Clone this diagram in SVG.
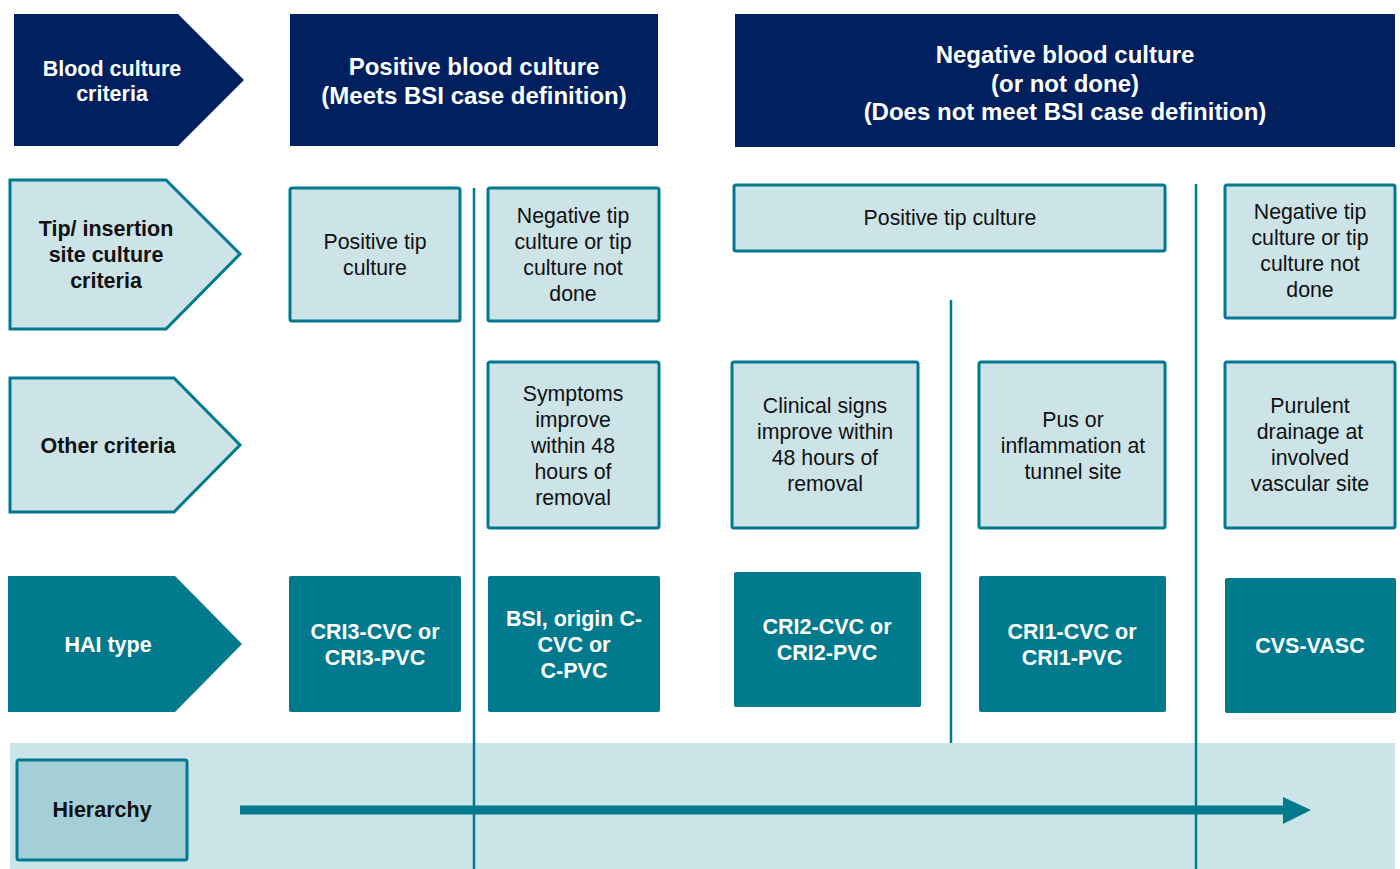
<svg xmlns="http://www.w3.org/2000/svg" width="1400" height="869" viewBox="0 0 1400 869">
<style>
text{font-family:"Liberation Sans",Arial,sans-serif;text-anchor:middle;dominant-baseline:central}
.hd{fill:#002060}
.lt{fill:#cce4e8;stroke:#007a8c;stroke-width:3}
.dk{fill:#007a8c}
.wb{fill:#fff;font-weight:bold;font-size:21.5px}
.wh{fill:#fff;font-weight:bold;font-size:24px}
.bb{fill:#111;font-weight:bold;font-size:21.5px}
.tx{fill:#111;font-size:21.3px}
.vl{stroke:#007a8c;stroke-width:2.5;fill:none}
</style>
<rect x="10" y="743" width="1385" height="126" fill="#cce4e8"/>
<g id="blood-criteria"><polygon class="hd" points="14,14 178,14 244,80 178,146 14,146"/><text class="wb" x="112" y="69">Blood culture</text><text class="wb" x="112" y="94">criteria</text></g>
<g id="pos-blood"><rect class="hd" x="290" y="14" width="368" height="132"/><text class="wh" x="474" y="66">Positive blood culture</text><text class="wh" x="474" y="95">(Meets BSI case definition)</text></g>
<g id="neg-blood"><rect class="hd" x="735" y="14" width="660" height="133"/><text class="wh" x="1065" y="54">Negative blood culture</text><text class="wh" x="1065" y="83">(or not done)</text><text class="wh" x="1065" y="111">(Does not meet BSI case definition)</text></g>
<g id="tip-criteria"><polygon class="lt" points="10,180 166,180 240,254 166,329 10,329"/><text class="bb" x="106" y="229">Tip/ insertion</text><text class="bb" x="106" y="255">site culture</text><text class="bb" x="106" y="281">criteria</text></g>
<g id="other-criteria"><polygon class="lt" points="10,378 174,378 240,445 174,512 10,512"/><text class="bb" x="108" y="446">Other criteria</text></g>
<g id="hai-type"><polygon class="dk" points="8,576 175,576 242,644 175,712 8,712"/><text class="wb" x="108" y="645">HAI type</text></g>
<g id="connectors">
<line class="vl" x1="474" y1="188" x2="474" y2="869"/>
<line class="vl" x1="951" y1="300" x2="951" y2="743"/>
<line class="vl" x1="1196" y1="184" x2="1196" y2="869"/>
<line x1="240" y1="810" x2="1288" y2="810" stroke="#007a8c" stroke-width="9"/>
<polygon points="1283,797 1311,810 1283,824" fill="#007a8c"/>
</g>
<g id="pos-tip-1"><rect class="lt" x="290" y="188" width="170" height="133" rx="2"/><text class="tx" x="375" y="242">Positive tip</text><text class="tx" x="375" y="268">culture</text></g>
<g id="neg-tip-1"><rect class="lt" x="488" y="188" width="171" height="133" rx="2"/><text class="tx" x="573" y="216">Negative tip</text><text class="tx" x="573" y="242">culture or tip</text><text class="tx" x="573" y="268">culture not</text><text class="tx" x="573" y="294">done</text></g>
<g id="pos-tip-2"><rect class="lt" x="734" y="185" width="431" height="66" rx="2"/><text class="tx" x="950" y="218">Positive tip culture</text></g>
<g id="neg-tip-2"><rect class="lt" x="1225" y="185" width="170" height="133" rx="2"/><text class="tx" x="1310" y="212">Negative tip</text><text class="tx" x="1310" y="238">culture or tip</text><text class="tx" x="1310" y="264">culture not</text><text class="tx" x="1310" y="290">done</text></g>
<g id="symptoms"><rect class="lt" x="488" y="362" width="171" height="166" rx="2"/><text class="tx" x="573" y="394">Symptoms</text><text class="tx" x="573" y="420">improve</text><text class="tx" x="573" y="446">within 48</text><text class="tx" x="573" y="472">hours of</text><text class="tx" x="573" y="498">removal</text></g>
<g id="clinical"><rect class="lt" x="732" y="362" width="186" height="166" rx="2"/><text class="tx" x="825" y="406">Clinical signs</text><text class="tx" x="825" y="432">improve within</text><text class="tx" x="825" y="458">48 hours of</text><text class="tx" x="825" y="484">removal</text></g>
<g id="pus"><rect class="lt" x="979" y="362" width="186" height="166" rx="2"/><text class="tx" x="1073" y="420">Pus or</text><text class="tx" x="1073" y="446">inflammation at</text><text class="tx" x="1073" y="472">tunnel site</text></g>
<g id="purulent"><rect class="lt" x="1225" y="362" width="170" height="166" rx="2"/><text class="tx" x="1310" y="406">Purulent</text><text class="tx" x="1310" y="432">drainage at</text><text class="tx" x="1310" y="458">involved</text><text class="tx" x="1310" y="484">vascular site</text></g>
<g id="cri3"><rect class="dk" x="289" y="576" width="172" height="136" rx="2"/><text class="wb" x="375" y="632">CRI3-CVC or</text><text class="wb" x="375" y="658">CRI3-PVC</text></g>
<g id="bsi"><rect class="dk" x="488" y="576" width="172" height="136" rx="2"/><text class="wb" x="574" y="619">BSI, origin C-</text><text class="wb" x="574" y="645">CVC or</text><text class="wb" x="574" y="671">C-PVC</text></g>
<g id="cri2"><rect class="dk" x="734" y="572" width="187" height="135" rx="2"/><text class="wb" x="827" y="627">CRI2-CVC or</text><text class="wb" x="827" y="653">CRI2-PVC</text></g>
<g id="cri1"><rect class="dk" x="979" y="576" width="187" height="136" rx="2"/><text class="wb" x="1072" y="632">CRI1-CVC or</text><text class="wb" x="1072" y="658">CRI1-PVC</text></g>
<g id="cvs"><rect class="dk" x="1225" y="578" width="171" height="135" rx="2"/><text class="wb" x="1310" y="646">CVS-VASC</text></g>
<g id="hierarchy"><rect x="17" y="760" width="170" height="100" rx="2" fill="#a5cfd6" stroke="#007a8c" stroke-width="3"/><text class="bb" x="102" y="810">Hierarchy</text></g>
</svg>
